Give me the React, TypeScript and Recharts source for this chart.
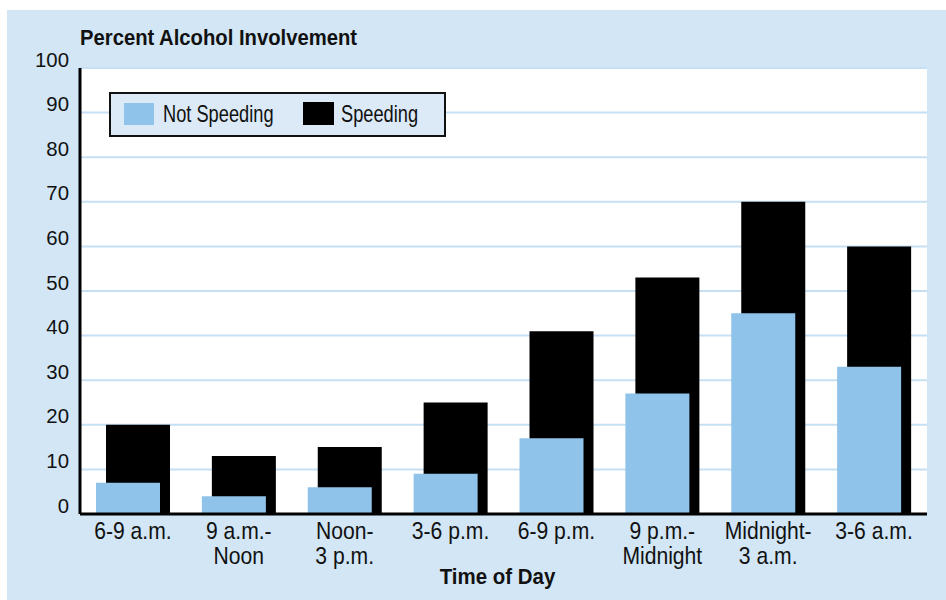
import { Bar, BarChart, CartesianGrid, XAxis, YAxis } from "recharts";

const categories = [
  "6-9 a.m.",
  "9 a.m.-\nNoon",
  "Noon-\n3 p.m.",
  "3-6 p.m.",
  "6-9 p.m.",
  "9 p.m.-\nMidnight",
  "Midnight-\n3 a.m.",
  "3-6 a.m.",
];
const notSpeeding = [7, 4, 6, 9, 17, 27, 45, 33];
const speeding = [20, 13, 15, 25, 41, 53, 70, 60];
const yTicks = [0, 10, 20, 30, 40, 50, 60, 70, 80, 90, 100];

const data = categories.map((name, i) => ({
  name,
  notSpeeding: notSpeeding[i],
  speeding: speeding[i],
}));

// no condensed Helvetica here, so squeeze Liberation Sans horizontally
const FONT = '"Liberation Sans", Arial, sans-serif';
const BG = "#d2e6f5";
const LIGHT_BLUE = "#8fc3ea";
const INK = "#111";

function YTick({ x, y, payload }: any) {
  return (
    <text
      transform={`translate(${x - 3},${y - 1.5}) scale(0.97,1)`}
      textAnchor="end"
      fontSize={21}
      fill={INK}
      fontFamily={FONT}
    >
      {payload.value}
    </text>
  );
}

function XTick({ x, y, payload }: any) {
  const lines = String(payload.value).split("\n");
  return (
    <g transform={`translate(${x},${y}) scale(0.88,1)`}>
      {lines.map((l, i) => (
        <text key={i} x={0} y={17 + i * 25} textAnchor="middle" fontSize={24} fill={INK} fontFamily={FONT}>
          {l}
        </text>
      ))}
    </g>
  );
}

function AxisTitle({ viewBox }: any) {
  const cx = viewBox.x + viewBox.width / 2 - 6;
  return (
    <text
      transform={`translate(${cx},${viewBox.y + 70}) scale(0.93,1)`}
      textAnchor="middle"
      fontSize={22}
      fontWeight="bold"
      fill={INK}
      fontFamily={FONT}
    >
      Time of Day
    </text>
  );
}

function Narrow({ text, left, top, size, scale, bold }: any) {
  return (
    <span
      style={{
        position: "absolute",
        left,
        top,
        fontSize: size,
        lineHeight: 1,
        fontWeight: bold ? "bold" : "normal",
        whiteSpace: "nowrap",
        transform: `scaleX(${scale})`,
        transformOrigin: "left top",
      }}
    >
      {text}
    </span>
  );
}

function LegendBox() {
  return (
    <div
      style={{
        position: "absolute",
        left: 102,
        top: 82,
        width: 337,
        height: 45,
        boxSizing: "border-box",
        background: "#dbeaf6",
        border: "2px solid #111",
        fontFamily: FONT,
        color: INK,
      }}
    >
      <span style={{ position: "absolute", left: 13, top: 9, width: 30, height: 22, background: LIGHT_BLUE }} />
      <Narrow text="Not Speeding" left={52} top={8} size={24} scale={0.76} />
      <span style={{ position: "absolute", left: 192, top: 8, width: 31, height: 23, background: "#000" }} />
      <Narrow text="Speeding" left={230} top={8} size={24} scale={0.76} />
    </div>
  );
}

export default function App() {
  return (
    <div style={{ position: "absolute", left: 7, top: 10, width: 939, height: 590, background: BG, fontFamily: FONT, color: INK }}>
      <Narrow text="Percent Alcohol Involvement" left={73} top={17} size={22} scale={0.92} bold />
      <BarChart
        width={939}
        height={590}
        data={data}
        margin={{ top: 58, right: 19, left: 0, bottom: 0 }}
        barSize={64}
        barGap={-74}
      >
        <CartesianGrid horizontal vertical={false} stroke="#c6dff2" strokeWidth={2} fill="#fff" />
        <XAxis
          dataKey="name"
          height={86}
          axisLine={{ stroke: "#000", strokeWidth: 3 }}
          tickLine={false}
          tick={<XTick />}
          interval={0}
          label={<AxisTitle />}
        />
        <XAxis
          xAxisId="top"
          dataKey="name"
          orientation="top"
          height={0}
          tick={false}
          tickLine={false}
          axisLine={{ stroke: "#111", strokeWidth: 2 }}
        />
        <YAxis
          domain={[0, 100]}
          ticks={yTicks}
          width={73}
          axisLine={{ stroke: "#000", strokeWidth: 3 }}
          tickLine={false}
          tick={<YTick />}
          interval={0}
        />
        <YAxis
          yAxisId="r"
          orientation="right"
          domain={[0, 100]}
          width={0}
          tick={false}
          tickLine={false}
          axisLine={{ stroke: "#222", strokeWidth: 2 }}
        />
        <Bar dataKey="speeding" name="Speeding" fill="#000" isAnimationActive={false} />
        <Bar dataKey="notSpeeding" name="Not Speeding" fill={LIGHT_BLUE} isAnimationActive={false} />
      </BarChart>
      <LegendBox />
    </div>
  );
}
